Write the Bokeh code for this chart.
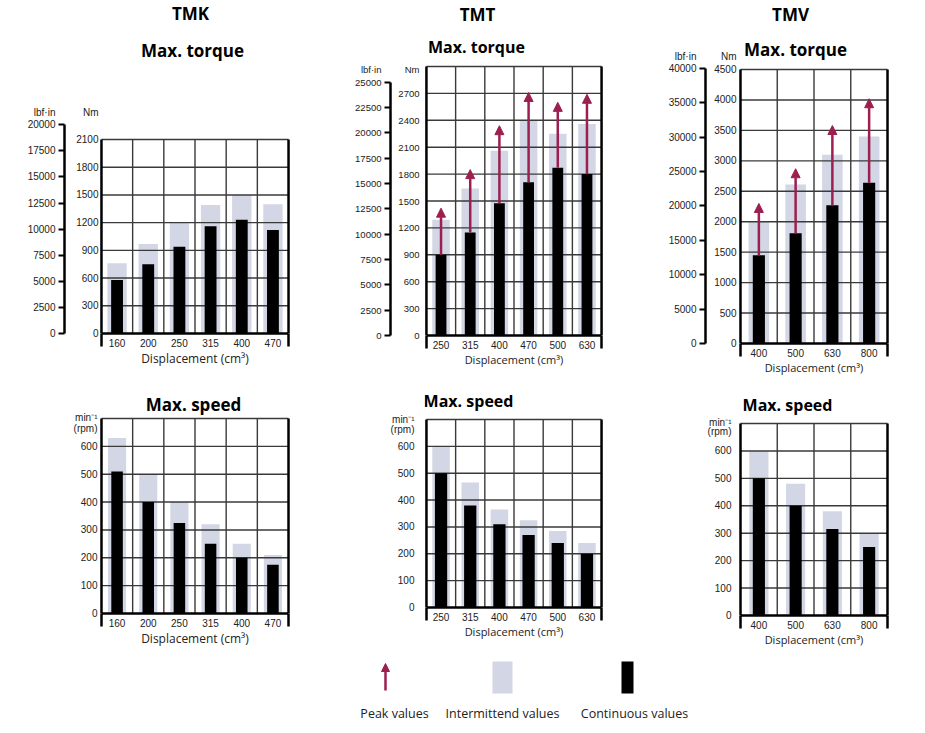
from bokeh.plotting import figure
from bokeh.layouts import row, column
from bokeh.models import Range1d, LinearAxis, FixedTicker, Label, Arrow, NormalHead, ColumnDataSource
from bokeh.embed import file_html
from bokeh.resources import INLINE
from bokeh.core.properties import value

# ---------------- data ----------------
tmk_disp = ["160", "200", "250", "315", "400", "470"]
tmk_torque_int = [760, 970, 1200, 1390, 1500, 1400]
tmk_torque_cont = [580, 750, 940, 1160, 1230, 1120]
tmk_speed_int = [630, 500, 400, 320, 250, 210]
tmk_speed_cont = [510, 400, 325, 250, 200, 175]

tmt_disp = ["250", "315", "400", "470", "500", "630"]
tmt_torque_int = [1290, 1640, 2060, 2400, 2250, 2360]
tmt_torque_cont = [900, 1150, 1475, 1710, 1870, 1800]
tmt_torque_peak = [1420, 1850, 2340, 2710, 2600, 2690]
tmt_speed_int = [600, 465, 365, 325, 285, 240]
tmt_speed_cont = [500, 380, 310, 270, 240, 200]

tmv_disp = ["400", "500", "630", "800"]
tmv_torque_int = [2000, 2610, 3100, 3400]
tmv_torque_cont = [1450, 1810, 2270, 2640]
tmv_torque_peak = [2300, 2870, 3580, 4020]
tmv_speed_int = [600, 480, 380, 300]
tmv_speed_cont = [500, 400, 315, 250]

tmk_nm_ticks = [0, 300, 600, 900, 1200, 1500, 1800, 2100]
tmk_lbf_ticks = [0, 2500, 5000, 7500, 10000, 12500, 15000, 17500, 20000]
tmt_nm_ticks = [0, 300, 600, 900, 1200, 1500, 1800, 2100, 2400, 2700]
tmt_lbf_ticks = [0, 2500, 5000, 7500, 10000, 12500, 15000, 17500, 20000, 22500, 25000]
tmv_nm_ticks = [0, 500, 1000, 1500, 2000, 2500, 3000, 3500, 4000, 4500]
tmv_lbf_ticks = [0, 5000, 10000, 15000, 20000, 25000, 30000, 35000, 40000]
speed_ticks = [0, 100, 200, 300, 400, 500, 600]

tmk_torque_top, tmt_torque_top, tmv_torque_top, speed_top = 2100, 3000, 4500, 700

legend_labels = ["Peak values", "Intermittend values", "Continuous values"]

LBF_TO_NM = 0.112985
LIGHT = "#d3d6e4"
PEAK = "#9c1f4f"
GRID = "#3a3a3a"
NUM_FONT = "Liberation Sans"
TXT_FONT = "Open Sans"
PAD = 2.0
EDGE_EXT = 13


def make_panel(cats, inter, cont, peak, yticks, frame_top, lbf_ticks,
               width, height, fl, fr, y0, yt, ylab_gap, spacer,
               inter_w, cont_w, titles, unit_rows,
               ytick_size="10px", xtick_size="10px", xlab_size="11px"):
    n = len(cats)
    ppu = (y0 - yt) / frame_top
    f_h = int(round(y0))
    range_top = f_h / ppu
    b_left = int(round(fl - PAD))
    f_w = int(round(fr + PAD)) - b_left
    colw = (f_w - 2 * PAD) / n
    xpad = PAD / colw
    b_right = width - b_left - f_w
    b_bottom = height - f_h
    p = figure(width=width, height=height,
               x_range=Range1d(-0.5 - xpad, n - 0.5 + xpad),
               y_range=Range1d(0, range_top),
               output_backend="svg", toolbar_location=None,
               min_border_left=b_left, min_border_right=b_right,
               min_border_top=0, min_border_bottom=b_bottom)
    p.xgrid.visible = False
    p.ygrid.visible = False
    p.outline_line_color = None
    p.background_fill_color = "white"
    p.border_fill_color = "white"

    xa = p.xaxis[0]
    xa.ticker = FixedTicker(ticks=list(range(n)), minor_ticks=[-0.5, n - 0.5])
    xa.major_label_overrides = {i: c for i, c in enumerate(cats)}
    xa.bounds = (-0.5, n - 0.5)
    xa.axis_line_width = 2.5
    xa.axis_line_color = "black"
    xa.major_tick_line_color = None
    xa.major_tick_out = 0
    xa.major_tick_in = 0
    xa.minor_tick_in = 0
    xa.minor_tick_out = EDGE_EXT
    xa.minor_tick_line_width = 2.5
    xa.minor_tick_line_color = "black"
    xa.major_label_text_font = NUM_FONT
    xa.major_label_text_font_size = xtick_size
    xa.major_label_text_color = "#222222"
    xa.major_label_standoff = 5 - EDGE_EXT
    xa.axis_label = "Displacement (cm³)"
    xa.axis_label_text_font = TXT_FONT
    xa.axis_label_text_font_size = xlab_size
    xa.axis_label_text_font_style = "normal"
    xa.axis_label_text_color = "#222222"
    xa.axis_label_standoff = 0

    # unit labels are extra, unmarked ticks above the scale
    def unit_val(py):
        return int(round((y0 - py) / ppu))

    ya = p.yaxis[0]
    y_extra = {}
    lbf_extra = {}
    for (py, txt, which) in unit_rows:
        if which == "main":
            y_extra[unit_val(py)] = txt
        else:
            lbf_extra[int(round(unit_val(py) / LBF_TO_NM))] = txt
    ya.ticker = FixedTicker(ticks=list(yticks) + list(y_extra.keys()))
    ya.major_label_overrides = y_extra
    ya.axis_line_color = None
    ya.major_tick_line_color = None
    ya.major_tick_out = 0
    ya.major_tick_in = 0
    ya.minor_tick_line_color = None
    ya.major_label_text_font = NUM_FONT
    ya.major_label_text_font_size = ytick_size
    ya.major_label_text_color = "#222222"
    ya.major_label_standoff = max(0, int(round(ylab_gap - PAD)))

    if lbf_ticks:
        ya.axis_label = " "
        ya.axis_label_text_font_size = "%spx" % spacer
        ya.axis_label_standoff = 0
        p.extra_y_ranges = {"lbf": Range1d(0, range_top / LBF_TO_NM)}
        la = LinearAxis(y_range_name="lbf",
                        ticker=FixedTicker(ticks=list(lbf_ticks) + list(lbf_extra.keys()),
                                           minor_ticks=list(lbf_ticks)),
                        bounds=(0, lbf_ticks[-1]))
        la.major_label_overrides = lbf_extra
        la.axis_line_width = 2.5
        la.axis_line_color = "black"
        la.major_tick_in = 0
        la.major_tick_out = 6
        la.major_tick_line_color = None
        la.minor_tick_in = 0
        la.minor_tick_out = 6
        la.minor_tick_line_width = 2
        la.minor_tick_line_color = "black"
        la.major_label_standoff = 3
        la.major_label_text_font = NUM_FONT
        la.major_label_text_font_size = ytick_size
        la.major_label_text_color = "#222222"
        p.add_layout(la, "left")

    src = ColumnDataSource(dict(x=list(range(n)), inter=inter, cont=cont))
    p.vbar(x="x", top="inter", width=inter_w, source=src,
           fill_color=LIGHT, line_color=None)

    hl = list(yticks[1:]) + ([frame_top] if frame_top not in yticks else [])
    p.segment(x0=-0.5, x1=n - 0.5, y0=hl, y1=hl, line_color=GRID, line_width=1.4)
    vb = [i + 0.5 for i in range(n - 1)]
    p.segment(x0=vb, x1=vb, y0=0, y1=frame_top, line_color=GRID, line_width=1.4)

    p.vbar(x="x", top="cont", width=cont_w, source=src,
           fill_color="black", line_color=None)

    p.segment(x0=[-0.5, n - 0.5], x1=[-0.5, n - 0.5], y0=0, y1=frame_top,
              line_color="black", line_width=2.5)

    if peak:
        asrc = ColumnDataSource(dict(x=list(range(n)), y0=cont, y1=peak))
        p.add_layout(Arrow(end=NormalHead(size=9, fill_color=PEAK, line_color=PEAK, line_width=1),
                           x_start="x", y_start="y0", x_end="x", y_end="y1",
                           source=asrc, line_color=PEAK, line_width=2.5))

    for (txt, x, y, size) in titles:
        p.add_layout(Label(x=x, y=y, x_units="canvas", y_units="canvas",
                           text=txt, text_font=TXT_FONT, text_font_size=size,
                           text_font_style="bold", text_align="center",
                           text_baseline="middle", text_color="black"))
    return p


H1, H2, H3 = 390, 271, 71
W1, W2, W3 = 335, 305, 280

f_tmk_t = make_panel(tmk_disp, tmk_torque_int, tmk_torque_cont, None,
                     tmk_nm_ticks, tmk_torque_top, tmk_lbf_ticks,
                     W1, H1, 98, 288, 333, 139, 3, 5, 0.62, 0.38,
                     [("TMK", 190, 13, "17px"), ("Max. torque", 192, 50, "17px")],
                     [(112, "Nm", "main"), (112, "lbf·in", "lbf")],
                     xlab_size="12px")

f_tmt_t = make_panel(tmt_disp, tmt_torque_int, tmt_torque_cont, tmt_torque_peak,
                     tmt_nm_ticks, tmt_torque_top, tmt_lbf_ticks,
                     W2, H1, 91, 272, 335, 66, 7, 2, 0.6, 0.37,
                     [("TMT", 142, 14, "17px"), ("Max. torque", 141, 46, "16px")],
                     [(69, "Nm", "main"), (69, "lbf·in", "lbf")],
                     ytick_size="9.5px")

f_tmv_t = make_panel(tmv_disp, tmv_torque_int, tmv_torque_cont, tmv_torque_peak,
                     tmv_nm_ticks, tmv_torque_top, tmv_lbf_ticks,
                     W3, H1, 100, 248, 343, 69, 4, 2.5, 0.56, 0.33,
                     [("TMV", 150, 14, "17px"), ("Max. torque", 155, 49, "17px")],
                     [(56, "Nm", "main"), (56, "lbf·in", "lbf")])

f_tmk_s = make_panel(tmk_disp, tmk_speed_int, tmk_speed_cont, None,
                     speed_ticks, speed_top, None,
                     W1, H2, 101, 289, 223, 28, 4, 0, 0.58, 0.37,
                     [("Max. speed", 193, 14, "17px")],
                     [(27, "min⁻¹", "main"), (38, "(rpm)", "main")],
                     xlab_size="12px")

f_tmt_s = make_panel(tmt_disp, tmt_speed_int, tmt_speed_cont, None,
                     speed_ticks, speed_top, None,
                     W2, H2, 87, 266, 217, 29, 12, 0, 0.6, 0.42,
                     [("Max. speed", 133, 10, "16px")],
                     [(29, "min⁻¹", "main"), (39, "(rpm)", "main")])

f_tmv_s = make_panel(tmv_disp, tmv_speed_int, tmv_speed_cont, None,
                     speed_ticks, speed_top, None,
                     W3, H2, 100, 247, 225, 33, 9, 0, 0.52, 0.33,
                     [("Max. speed", 147, 14, "16px")],
                     [(32, "min⁻¹", "main"), (41, "(rpm)", "main")])

# ---------------- legend ----------------
LW = W1 + W2 + W3
leg = figure(width=LW, height=H3, x_range=Range1d(0, LW), y_range=Range1d(0, H3),
             x_axis_type=None, y_axis_type=None, output_backend="svg",
             toolbar_location=None, min_border=0)
leg.xgrid.visible = False
leg.ygrid.visible = False
leg.outline_line_color = None
leg_glyph_x = [385, 502, 627]
leg_text_x = [394, 502, 634]
asrc = ColumnDataSource(dict(x=[leg_glyph_x[0]], y0=[42], y1=[69]))
leg.add_layout(Arrow(end=NormalHead(size=8, fill_color=PEAK, line_color=PEAK, line_width=1),
                     x_start="x", y_start="y0", x_end="x", y_end="y1", source=asrc,
                     line_color=PEAK, line_width=2.5))
leg.rect(x=[leg_glyph_x[1]], y=[55.5], width=20, height=33, fill_color=LIGHT, line_color=None)
leg.rect(x=[leg_glyph_x[2]], y=[55.5], width=12, height=33, fill_color="black", line_color=None)
leg.text(x=leg_text_x, y=[19, 19, 19], text=legend_labels, text_font=value(TXT_FONT),
         text_font_size=value("12.5px"), text_align="center", text_baseline="middle",
         text_color="#222222")

layout = column(row(column(f_tmk_t, f_tmk_s), column(f_tmt_t, f_tmt_s), column(f_tmv_t, f_tmv_s)), leg)
open("out.html", "w").write(file_html(layout, INLINE))
